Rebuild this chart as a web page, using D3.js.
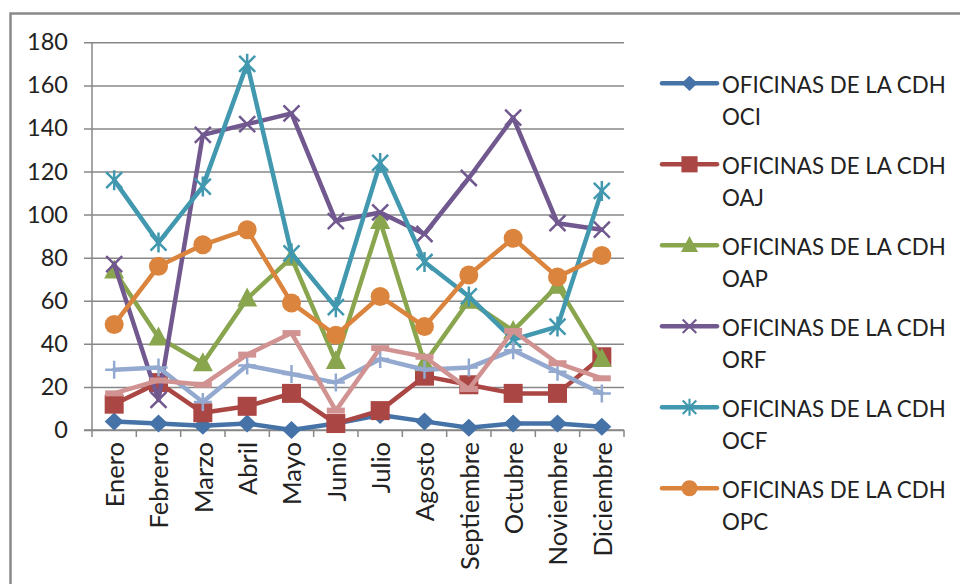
<!DOCTYPE html>
<html>
<head>
<meta charset="utf-8">
<script src="https://cdn.jsdelivr.net/npm/d3@7"></script>
<style>
  html, body { margin: 0; padding: 0; background: #fff; }
  svg { display: block; }
  text { font-family: Lato, "Open Sans", sans-serif; fill: #222; }
</style>
</head>
<body>
<svg id="chart" width="960" height="584"></svg>
<script>
// Monthly counts per office
const months = ["Enero", "Febrero", "Marzo", "Abril", "Mayo", "Junio", "Julio",
                "Agosto", "Septiembre", "Octubre", "Noviembre", "Diciembre"];
const yTicks = [0, 20, 40, 60, 80, 100, 120, 140, 160, 180];

const oci = [4, 3, 2, 3, 0, 3, 7, 4, 1, 3, 3, 1.5];
const oaj = [12, 22, 8, 11, 17, 3, 9, 25, 21, 17, 17, 34];
const oap = [74, 43, 31, 61, 80, 32, 97, 31, 60, 46, 67, 33];
const orf = [77, 14, 137, 142, 147, 97, 101, 91, 117, 145, 96, 93];
const ocf = [116, 87, 113, 170, 82, 57, 124, 78, 62, 42, 48, 111];
const opc = [49, 76, 86, 93, 59, 44, 62, 48, 72, 89, 71, 81];
const oxx = [28, 29, 13, 30, 26, 22, 33, 28, 29, 37, 27, 17];
const oyy = [17, 23, 21, 35, 45, 9, 38, 34, 19, 46, 31, 24];

const seriesNames = ["OFICINAS DE LA CDH OCI", "OFICINAS DE LA CDH OAJ", "OFICINAS DE LA CDH OAP",
                     "OFICINAS DE LA CDH ORF", "OFICINAS DE LA CDH OCF", "OFICINAS DE LA CDH OPC",
                     "OFICINAS DE LA CDH (7)", "OFICINAS DE LA CDH (8)"];
const seriesValues = [oci, oaj, oap, orf, ocf, opc, oxx, oyy];
const seriesColors = ["#4572A7", "#AA4643", "#89A54E", "#71588F", "#4198AF", "#DB843D", "#93A9CF", "#D19392"];
const seriesMarkers = ["diamond", "square", "triangle", "x", "asterisk", "circle", "plus", "dash"];
const legendCount = 6; // the legend box only has room for the first six entries

const svg = d3.select("#chart");

// Outer chart frame (runs off the right and bottom edges)
svg.append("rect")
  .attr("x", 10.5).attr("y", 13.5).attr("width", 1000).attr("height", 700)
  .attr("fill", "none").attr("stroke", "#8a8a8a").attr("stroke-width", 2.5);

const plot = { left: 92, right: 624, top: 42.3, bottom: 430 };

const x = d3.scaleBand().domain(months).range([plot.left, plot.right]);
const y = d3.scaleLinear().domain([0, 180]).range([plot.bottom, plot.top]);
const cx = m => x(m) + x.bandwidth() / 2;

// Horizontal gridlines with outside ticks
const yAxis = d3.axisLeft(y).tickValues(yTicks).tickSize(-(plot.right - plot.left)).tickPadding(24);
const gy = svg.append("g").attr("transform", `translate(${plot.left},0)`).call(yAxis);
gy.select(".domain").remove();
gy.selectAll(".tick line").attr("stroke", "#878787").attr("stroke-width", 1.5).attr("x1", -8);
gy.selectAll(".tick text").attr("font-size", 23.5).attr("fill", "#222")
  .style("font-family", "Lato, 'Open Sans', sans-serif");

// Vertical axis line
svg.append("line").attr("x1", plot.left).attr("x2", plot.left)
  .attr("y1", plot.top).attr("y2", plot.bottom)
  .attr("stroke", "#878787").attr("stroke-width", 1.5);

// Category axis: tick marks on band boundaries
const gx = svg.append("g").attr("transform", `translate(0,${plot.bottom})`);
gx.append("line").attr("x1", plot.left - 8).attr("x2", plot.right)
  .attr("stroke", "#878787").attr("stroke-width", 1.5);
const bounds = months.map(m => x(m)).concat([plot.right]);
gx.selectAll("line.tk").data(bounds).join("line").attr("class", "tk")
  .attr("x1", d => d).attr("x2", d => d).attr("y1", 0).attr("y2", 7)
  .attr("stroke", "#878787").attr("stroke-width", 1.5);
gx.selectAll("text").data(months).join("text")
  .attr("transform", d => `translate(${cx(d) + 1},12) rotate(-90)`)
  .attr("text-anchor", "end").attr("dy", "0.35em")
  .attr("font-size", 25.5).text(d => d);

// Marker shapes
function drawMarker(g, type, color) {
  switch (type) {
    case "diamond":
      g.append("path").attr("d", "M0,-9L9.5,0L0,9L-9.5,0Z").attr("fill", color);
      break;
    case "square":
      g.append("rect").attr("x", -9.5).attr("y", -9.5).attr("width", 19).attr("height", 19).attr("fill", color);
      break;
    case "triangle":
      g.append("path").attr("d", "M0,-11L10,8L-10,8Z").attr("fill", color);
      break;
    case "circle":
      g.append("circle").attr("r", 9.5).attr("fill", color);
      break;
    case "x":
      g.append("path").attr("d", "M-8,-8L8,8M-8,8L8,-8")
        .attr("stroke", color).attr("stroke-width", 2.5).attr("fill", "none");
      break;
    case "asterisk":
      g.append("path").attr("d", "M-8,-8L8,8M-8,8L8,-8M0,-10L0,10")
        .attr("stroke", color).attr("stroke-width", 2.5).attr("fill", "none");
      break;
    case "plus":
      g.append("path").attr("d", "M-9,0L9,0M0,-9L0,9")
        .attr("stroke", color).attr("stroke-width", 2.5).attr("fill", "none");
      break;
    case "dash":
      g.append("path").attr("d", "M-9,0L9,0")
        .attr("stroke", color).attr("stroke-width", 6).attr("fill", "none");
      break;
  }
}

const line = d3.line().x((d, i) => cx(months[i])).y(d => y(d));

seriesValues.forEach((vals, si) => {
  const g = svg.append("g").attr("class", "series");
  g.append("path").datum(vals).attr("d", line)
    .attr("fill", "none").attr("stroke", seriesColors[si])
    .attr("stroke-width", 4.5).attr("stroke-linejoin", "round").attr("stroke-linecap", "round");
  vals.forEach((v, i) => {
    const mg = g.append("g").attr("transform", `translate(${cx(months[i])},${y(v)})`);
    drawMarker(mg, seriesMarkers[si], seriesColors[si]);
  });
});

// Legend
const legend = svg.append("g");
for (let i = 0; i < legendCount; i++) {
  const ly = 83.3 + 81 * i;
  const row = legend.append("g");
  row.append("line").attr("x1", 662).attr("x2", 717).attr("y1", ly).attr("y2", ly)
    .attr("stroke", seriesColors[i]).attr("stroke-width", 4.5).attr("stroke-linecap", "round");
  const mg = row.append("g").attr("transform", `translate(689.5,${ly}) scale(0.85)`);
  drawMarker(mg, seriesMarkers[i], seriesColors[i]);
  const name = seriesNames[i];
  const first = name.slice(0, name.lastIndexOf(" "));
  const second = name.slice(name.lastIndexOf(" ") + 1);
  const t = row.append("text").attr("x", 722).attr("y", ly + 9.4).attr("font-size", 22.3);
  t.append("tspan").attr("x", 722).text(first);
  t.append("tspan").attr("x", 722).attr("dy", 32).text(second);
}
</script>
</body>
</html>
